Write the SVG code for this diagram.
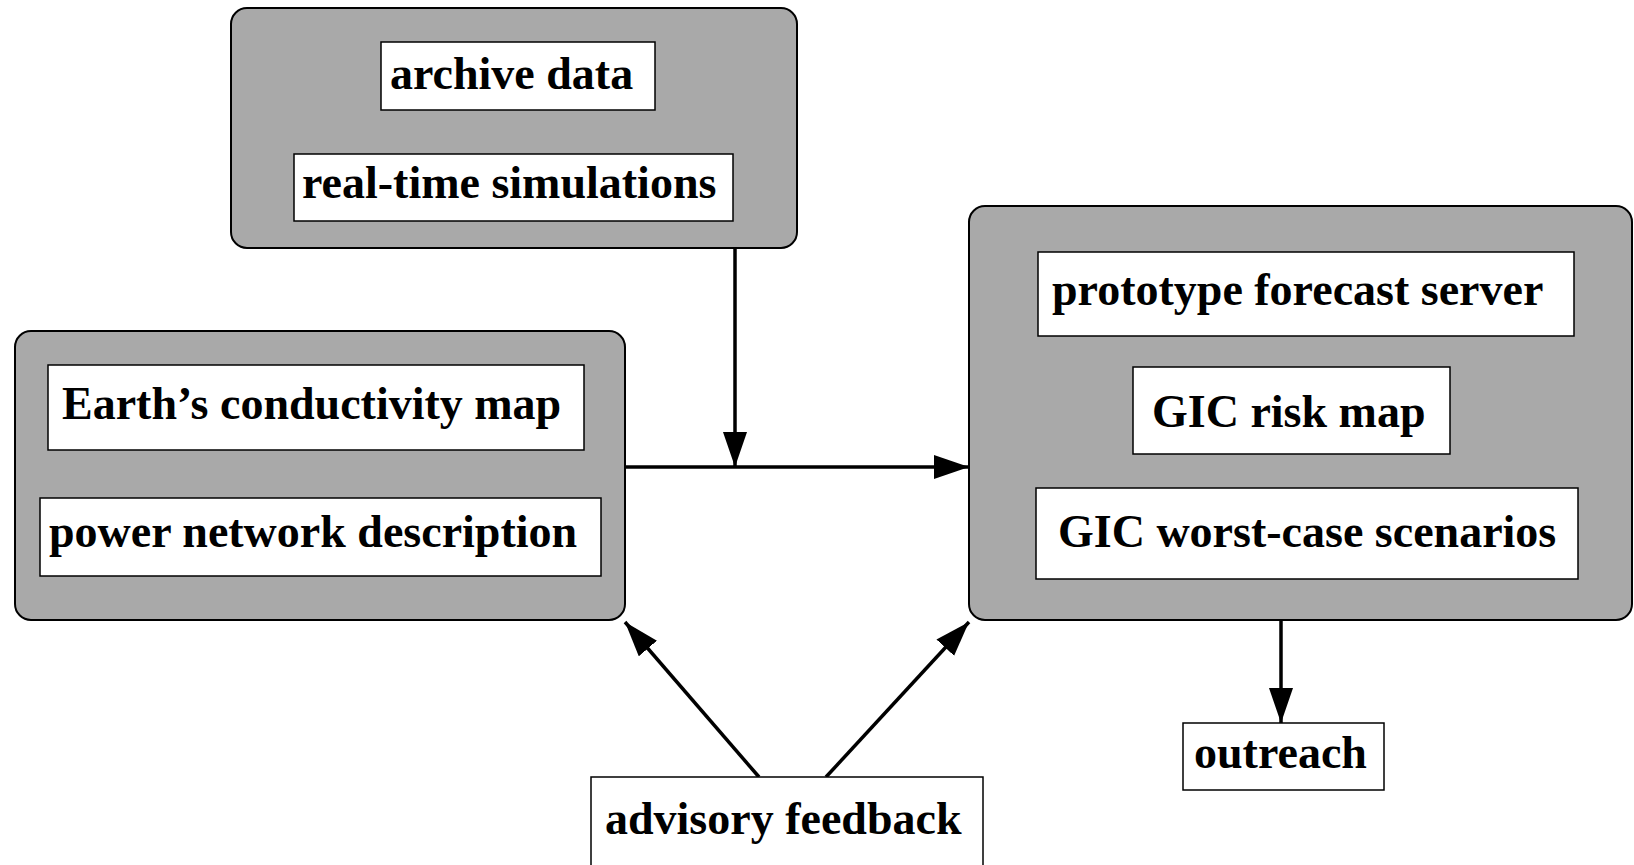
<svg xmlns="http://www.w3.org/2000/svg" width="1634" height="865" viewBox="0 0 1634 865">
<style>
.grp{fill:#a9a9a9;stroke:#000;stroke-width:2}
.box{fill:#fff;stroke:#000;stroke-width:1.5}
.t{font-family:"Liberation Serif","Times New Roman",serif;font-weight:bold;font-size:46px;fill:#000}
.c{stroke:#000;stroke-width:3.5;fill:none;marker-end:url(#ah)}
</style>
<defs>
<marker id="ah" markerUnits="userSpaceOnUse" markerWidth="36" markerHeight="26" refX="35" refY="12" orient="auto">
<path d="M0,0 L35,12 L0,24 z" fill="#000"/>
</marker>
</defs>
<rect width="1634" height="865" fill="#fff"/>
<g id="connectors">
<line class="c" x1="735" y1="248" x2="735" y2="467"/>
<line class="c" x1="625" y1="467" x2="969" y2="467"/>
<line class="c" x1="759" y1="777" x2="625" y2="622"/>
<line class="c" x1="826" y1="777" x2="969" y2="622"/>
<line class="c" x1="1281" y1="620" x2="1281" y2="723"/>
</g>
<g id="inputs">
<rect class="grp" x="231" y="8" width="566" height="240" rx="16"/>
<g id="archive-data">
<rect class="box" x="381" y="42" width="274" height="68"/>
<text class="t" x="390" y="89">archive data</text>
</g>
<g id="real-time-simulations">
<rect class="box" x="294" y="154" width="439" height="67"/>
<text class="t" x="302" y="198">real-time simulations</text>
</g>
</g>
<g id="earth-data">
<rect class="grp" x="15" y="331" width="610" height="289" rx="16"/>
<g id="conductivity-map">
<rect class="box" x="48" y="365" width="536" height="85"/>
<text class="t" x="62" y="419">Earth’s conductivity map</text>
</g>
<g id="power-network">
<rect class="box" x="40" y="498" width="561" height="78"/>
<text class="t" x="49" y="547">power network description</text>
</g>
</g>
<g id="outputs">
<rect class="grp" x="969" y="206" width="663" height="414" rx="16"/>
<g id="forecast-server">
<rect class="box" x="1038" y="252" width="536" height="84"/>
<text class="t" x="1052" y="305">prototype forecast server</text>
</g>
<g id="gic-risk-map">
<rect class="box" x="1133" y="367" width="317" height="87"/>
<text class="t" x="1152" y="427">GIC risk map</text>
</g>
<g id="gic-worst-case">
<rect class="box" x="1036" y="488" width="542" height="91"/>
<text class="t" x="1058" y="547">GIC worst-case scenarios</text>
</g>
</g>
<g id="outreach">
<rect class="box" x="1183" y="723" width="201" height="67"/>
<text class="t" x="1194" y="768">outreach</text>
</g>
<g id="advisory-feedback">
<rect class="box" x="591" y="777" width="392" height="90"/>
<text class="t" x="605" y="834">advisory feedback</text>
</g>
</svg>
